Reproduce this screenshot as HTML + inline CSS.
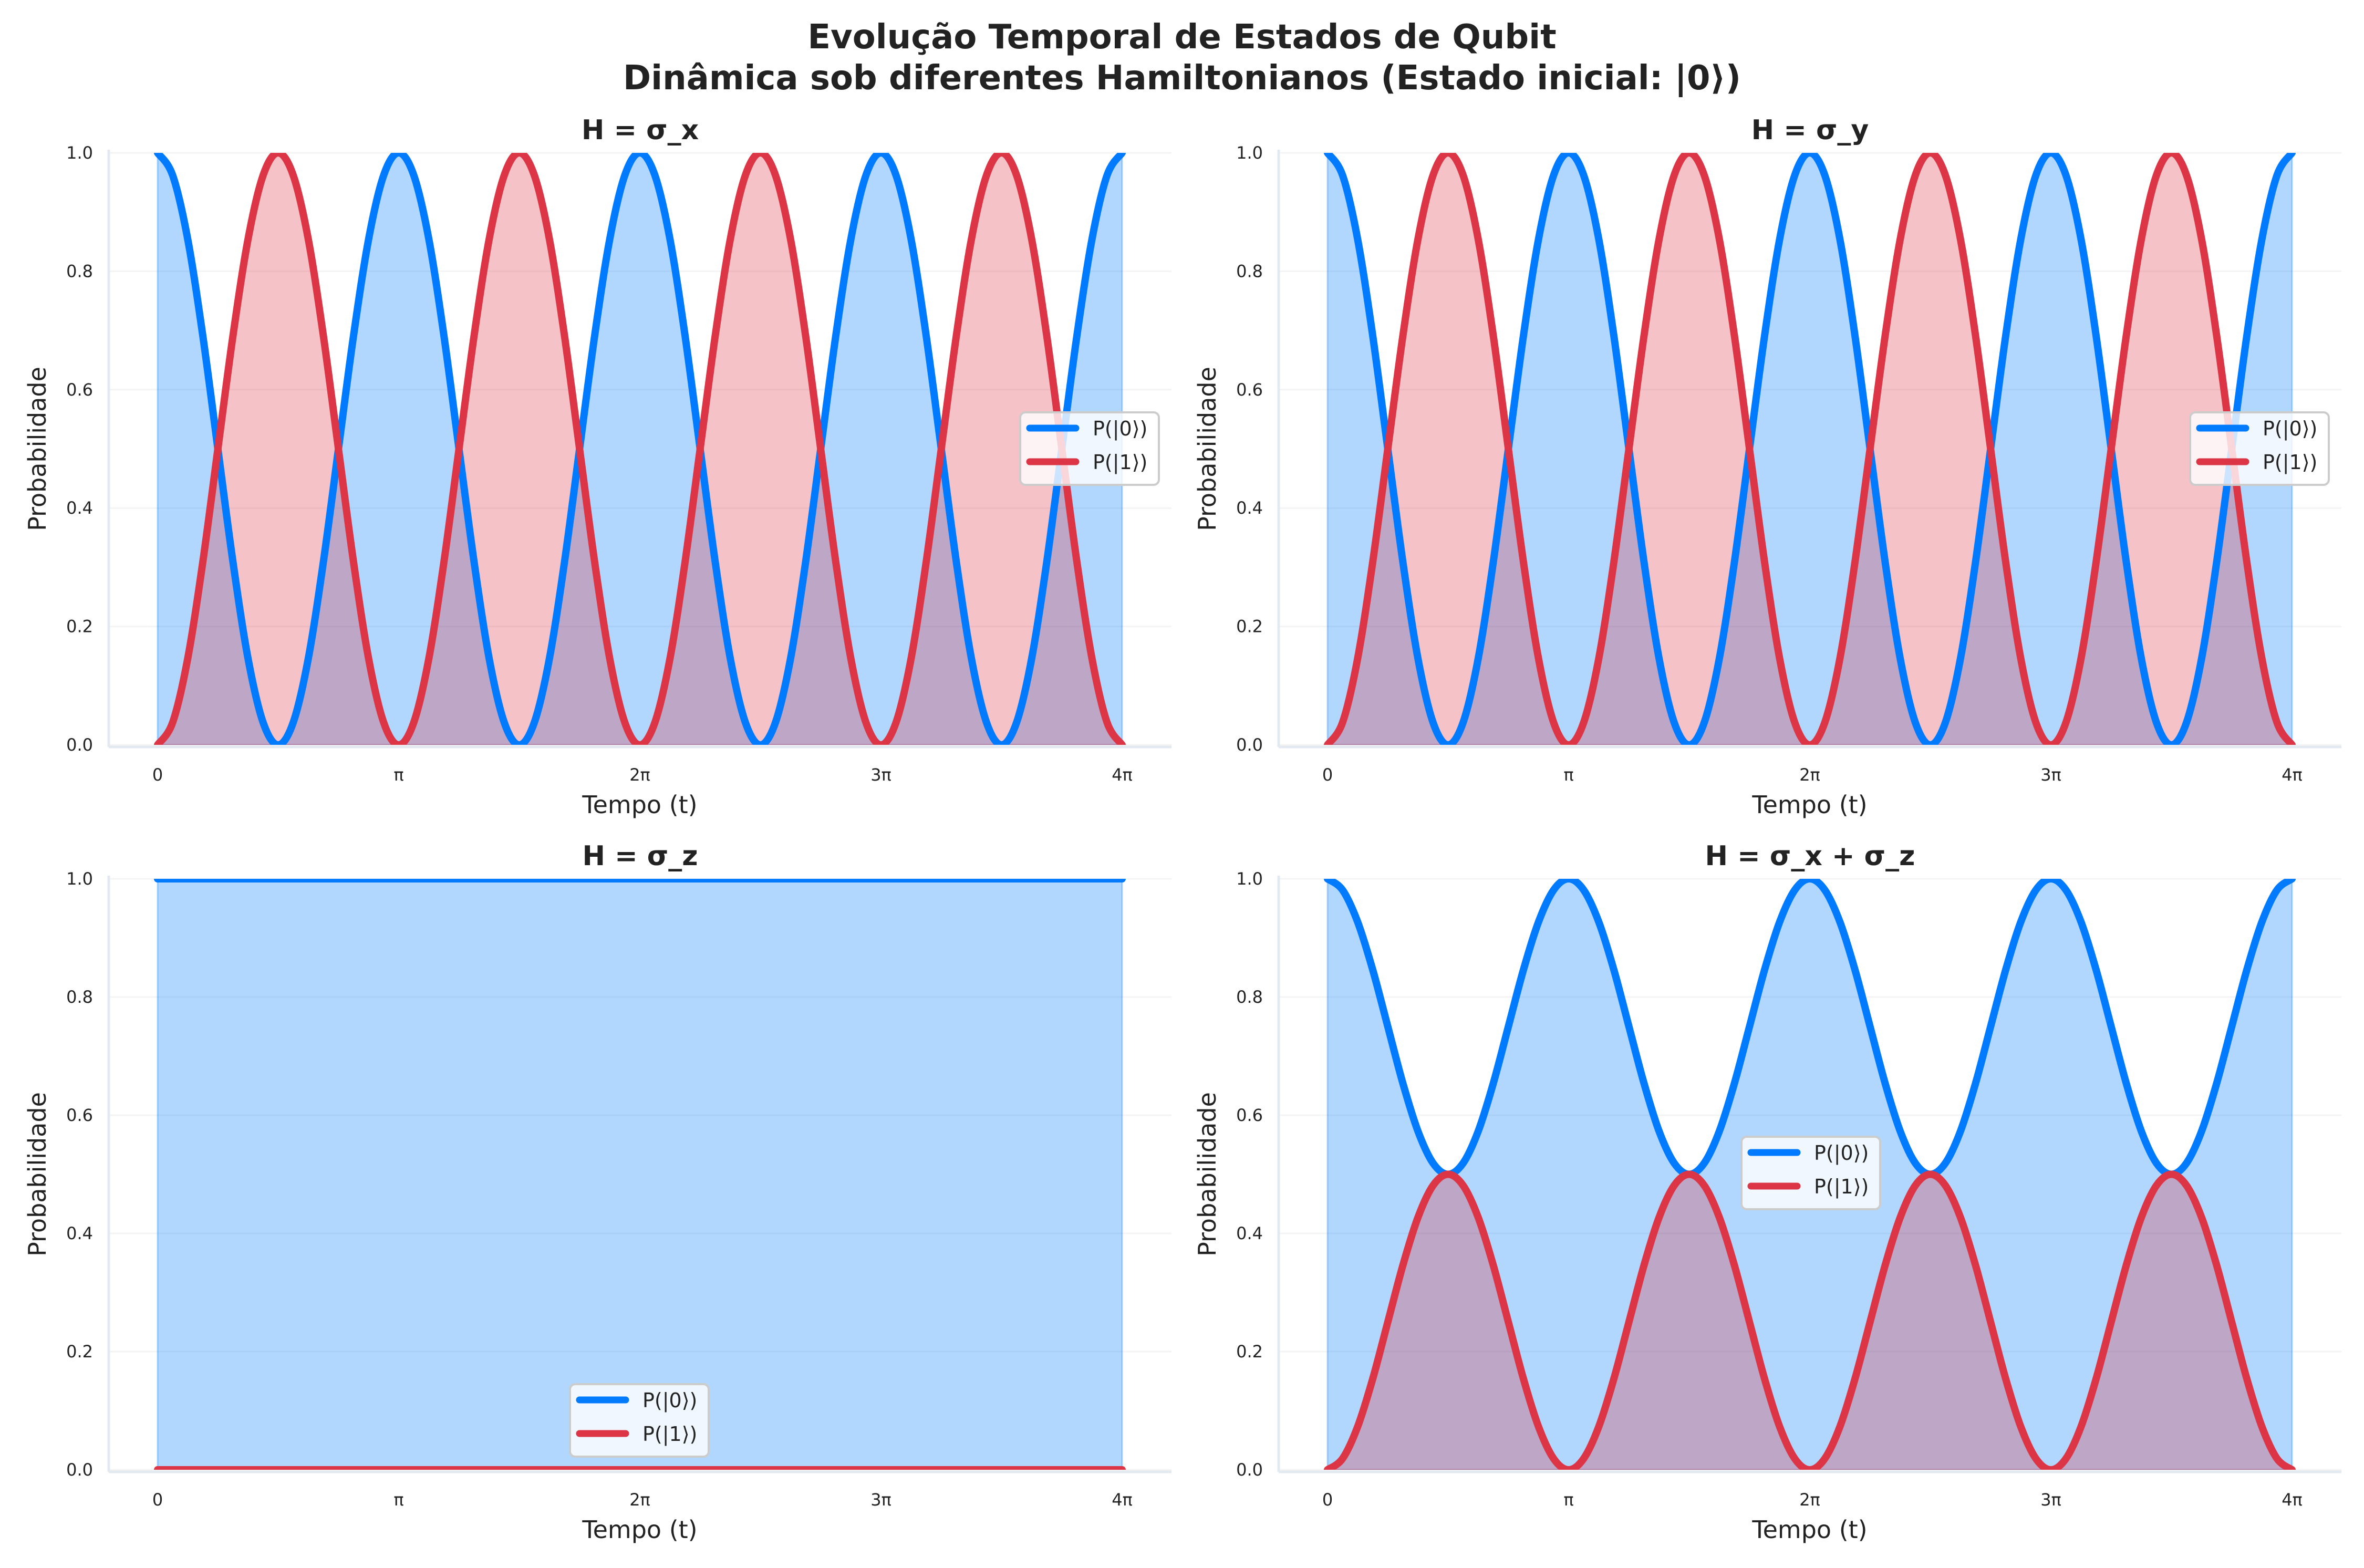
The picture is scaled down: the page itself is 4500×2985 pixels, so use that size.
<!DOCTYPE html>
<html><head><meta charset="utf-8"><style>
html,body{margin:0;padding:0;background:#fff;}
svg{display:block;font-family:"DejaVu Sans","Liberation Sans",sans-serif;}
</style></head><body>
<svg id="c" width="4500" height="2985" viewBox="0 0 4500 2985">
<text x="2250" y="92" text-anchor="middle" font-size="64" font-weight="bold" fill="#222">Evolução Temporal de Estados de Qubit</text>
<text x="2250" y="170" text-anchor="middle" font-size="64" font-weight="bold" fill="#222">Dinâmica sob diferentes Hamiltonianos (Estado inicial: |0⟩)</text>
</svg>
<script>
// t sampled at k*pi/16, k=0..64 (0 .. 4pi)
const tSteps = 64;
const xTickLabels = ["0","π","2π","3π","4π"];
const yTickLabels = ["0.0","0.2","0.4","0.6","0.8","1.0"];
const titles = ["H = σ_x","H = σ_y","H = σ_z","H = σ_x + σ_z"];
const sxP0 = [1,.962,.854,.691,.5,.309,.146,.038,0,.038,.146,.309,.5,.691,.854,.962,1,.962,.854,.691,.5,.309,.146,.038,0,.038,.146,.309,.5,.691,.854,.962,1,.962,.854,.691,.5,.309,.146,.038,0,.038,.146,.309,.5,.691,.854,.962,1,.962,.854,.691,.5,.309,.146,.038,0,.038,.146,.309,.5,.691,.854,.962,1];
const sxP1 = [0,.038,.146,.309,.5,.691,.854,.962,1,.962,.854,.691,.5,.309,.146,.038,0,.038,.146,.309,.5,.691,.854,.962,1,.962,.854,.691,.5,.309,.146,.038,0,.038,.146,.309,.5,.691,.854,.962,1,.962,.854,.691,.5,.309,.146,.038,0,.038,.146,.309,.5,.691,.854,.962,1,.962,.854,.691,.5,.309,.146,.038,0];
const syP0 = [1,.962,.854,.691,.5,.309,.146,.038,0,.038,.146,.309,.5,.691,.854,.962,1,.962,.854,.691,.5,.309,.146,.038,0,.038,.146,.309,.5,.691,.854,.962,1,.962,.854,.691,.5,.309,.146,.038,0,.038,.146,.309,.5,.691,.854,.962,1,.962,.854,.691,.5,.309,.146,.038,0,.038,.146,.309,.5,.691,.854,.962,1];
const syP1 = [0,.038,.146,.309,.5,.691,.854,.962,1,.962,.854,.691,.5,.309,.146,.038,0,.038,.146,.309,.5,.691,.854,.962,1,.962,.854,.691,.5,.309,.146,.038,0,.038,.146,.309,.5,.691,.854,.962,1,.962,.854,.691,.5,.309,.146,.038,0,.038,.146,.309,.5,.691,.854,.962,1,.962,.854,.691,.5,.309,.146,.038,0];
const szP0 = [1,1,1,1,1,1,1,1,1,1,1,1,1,1,1,1,1,1,1,1,1,1,1,1,1,1,1,1,1,1,1,1,1,1,1,1,1,1,1,1,1,1,1,1,1,1,1,1,1,1,1,1,1,1,1,1,1,1,1,1,1,1,1,1,1];
const szP1 = [0,0,0,0,0,0,0,0,0,0,0,0,0,0,0,0,0,0,0,0,0,0,0,0,0,0,0,0,0,0,0,0,0,0,0,0,0,0,0,0,0,0,0,0,0,0,0,0,0,0,0,0,0,0,0,0,0,0,0,0,0,0,0,0,0];
const sxzP0 = [1,.981,.927,.846,.75,.654,.573,.519,.5,.519,.573,.654,.75,.846,.927,.981,1,.981,.927,.846,.75,.654,.573,.519,.5,.519,.573,.654,.75,.846,.927,.981,1,.981,.927,.846,.75,.654,.573,.519,.5,.519,.573,.654,.75,.846,.927,.981,1,.981,.927,.846,.75,.654,.573,.519,.5,.519,.573,.654,.75,.846,.927,.981,1];
const sxzP1 = [0,.019,.073,.154,.25,.346,.427,.481,.5,.481,.427,.346,.25,.154,.073,.019,0,.019,.073,.154,.25,.346,.427,.481,.5,.481,.427,.346,.25,.154,.073,.019,0,.019,.073,.154,.25,.346,.427,.481,.5,.481,.427,.346,.25,.154,.073,.019,0,.019,.073,.154,.25,.346,.427,.481,.5,.481,.427,.346,.25,.154,.073,.019,0];

const NS="http://www.w3.org/2000/svg";
const svg=document.getElementById('c');
function mk(tag,attrs,parent){const e=document.createElementNS(NS,tag);for(const k in attrs)e.setAttribute(k,attrs[k]);(parent||svg).appendChild(e);return e;}

const panels=[
 {x0:300,x1:2136,sl:207,sr:2230,y1:291,y0:1418,p0:sxP0,p1:sxP1,leg:[1942,785]},
 {x0:2527,x1:4363,sl:2434,sr:4457,y1:291,y0:1418,p0:syP0,p1:syP1,leg:[4169,785]},
 {x0:300,x1:2136,sl:207,sr:2230,y1:1673,y0:2798,p0:szP0,p1:szP1,leg:[1085,2635]},
 {x0:2527,x1:4363,sl:2434,sr:4457,y1:1673,y0:2798,p0:sxzP0,p1:sxzP1,leg:[3315,2164]}
];

function pathD(pts){
  let d=`M${pts[0][0]},${pts[0][1]}`;
  for(let i=0;i<pts.length-1;i++){
    const p0=pts[Math.max(i-1,0)],p1=pts[i],p2=pts[i+1],p3=pts[Math.min(i+2,pts.length-1)];
    const c1=[p1[0]+(p2[0]-p0[0])/6,p1[1]+(p2[1]-p0[1])/6];
    const c2=[p2[0]-(p3[0]-p1[0])/6,p2[1]-(p3[1]-p1[1])/6];
    d+=` C${c1[0]},${c1[1]} ${c2[0]},${c2[1]} ${p2[0]},${p2[1]}`;
  }
  return d;
}

const defs=mk('defs',{});
panels.forEach((p,idx)=>{
  const cp=mk('clipPath',{id:'clip'+idx},defs);
  mk('rect',{x:p.sl,y:p.y1,width:p.sr-p.sl,height:p.y0-p.y1},cp);
  const g=mk('g',{});
  
  
  const xs=k=>p.x0+(p.x1-p.x0)*k/tSteps;
  const ys=v=>p.y0-(p.y0-p.y1)*v;
  yTickLabels.forEach((lab,i)=>{
    const y=ys(i/5);
    const gl=mk('line',{x1:p.sl,x2:p.sr,y1:y,y2:y,stroke:'#f4f4f4','stroke-width':3},g);
    
    
    const t=mk('text',{x:p.sl-30,y:y+11,'text-anchor':'end','font-size':32,fill:'#222'},g);
    t.textContent=lab;
    
    
  });
  xTickLabels.forEach((lab,i)=>{
    const x=p.x0+(p.x1-p.x0)*i/4;
    const t=mk('text',{x:x,y:p.y0+68,'text-anchor':'middle','font-size':32,fill:'#222'},g);
    t.textContent=lab;
    
    
  });
  const s1=mk('line',{x1:p.sl,x2:p.sl,y1:p.y1-6,y2:p.y0+4,stroke:'#e3e9f1','stroke-width':5},g);
  
  
  const s2=mk('line',{x1:p.sl,x2:p.sr,y1:p.y0+4,y2:p.y0+4,stroke:'#e3e9f1','stroke-width':5},g);
  
  
  const pg=mk('g',{'clip-path':`url(#clip${idx})`},g);
  
  
  [[p.p0,'#007bff','p0'],[p.p1,'#dc3545','p1']].forEach(([arr,col,nm])=>{
    const pts=arr.map((v,k)=>[xs(k),ys(v)]);
    const d=pathD(pts);
    const f=mk('path',{d:d+` L${xs(tSteps)},${p.y0} L${xs(0)},${p.y0} Z`,fill:col,'fill-opacity':0.3,stroke:col,'stroke-opacity':0.3,'stroke-width':3},pg);
    
    
  });
  [[p.p0,'#007bff','p0'],[p.p1,'#dc3545','p1']].forEach(([arr,col,nm])=>{
    const pts=arr.map((v,k)=>[xs(k),ys(v)]);
    const l=mk('path',{d:pathD(pts),fill:'none',stroke:col,'stroke-width':14,'stroke-linejoin':'round','stroke-linecap':'round'},pg);
    
    
  });
  const cx=(p.sl+p.sr)/2;
  const tt=mk('text',{x:cx,y:p.y1-26,'text-anchor':'middle','font-size':52,'font-weight':'bold',fill:'#222'},g);
  tt.textContent=titles[idx];
  
  
  const xl=mk('text',{x:(p.x0+p.x1)/2,y:p.y0+130,'text-anchor':'middle','font-size':46,fill:'#222'},g);
  xl.textContent='Tempo (t)';
  
  
  const ycx=p.sl-120, ycy=(p.y0+p.y1)/2;
  const yl=mk('text',{x:ycx,y:ycy,'text-anchor':'middle','font-size':46,fill:'#222',transform:`rotate(-90 ${ycx} ${ycy})`},g);
  yl.textContent='Probabilidade';
  
  
  const [lx,ly]=p.leg;
  const lg=mk('g',{},g);
  
  
  mk('rect',{x:lx,y:ly,width:264,height:138,rx:10,fill:'#fff','fill-opacity':0.8,stroke:'#cccccc','stroke-width':4},lg);
  [['P(|0⟩)','#007bff',ly+40],['P(|1⟩)','#dc3545',ly+104]].forEach(([lab,col,yy])=>{
    const e=mk('g',{},lg);
    
    
    mk('line',{x1:lx+18,x2:lx+106,y1:yy-10,y2:yy-10,stroke:col,'stroke-width':13,'stroke-linecap':'round'},e);
    const t=mk('text',{x:lx+138,y:yy+4,'font-size':38,fill:'#222'},e);
    t.textContent=lab;
  });
});
</script>
</body></html>
